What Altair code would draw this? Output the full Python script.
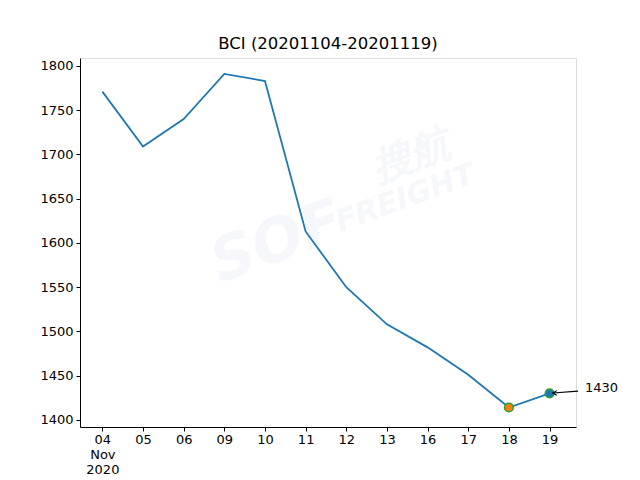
import altair as alt
import pandas as pd

dates = ["04", "05", "06", "09", "10", "11", "12", "13", "16", "17", "18", "19"]
values = [1771, 1709, 1740, 1791, 1783, 1613, 1550, 1508, 1482, 1451, 1414, 1430]

df = pd.DataFrame({"i": list(range(len(dates))), "date": dates, "bci": values})

xs = alt.Scale(domain=[-0.55, 11.65], nice=False, zero=False)
ys = alt.Scale(domain=[1392, 1809], nice=False, zero=False)

label_arr = "[" + ",".join("'%s'" % d for d in dates) + "]"
label_expr = "datum.value == 0 ? ['04','Nov','2020'] : %s[datum.value]" % label_arr

xaxis = alt.Axis(values=list(range(len(dates))), labelExpr=label_expr, title=None, grid=False,
                 domain=True, domainColor="black", tickColor="black", tickSize=4, labelColor="black",
                 labelFontSize=13, labelFont="DejaVu Sans", labelPadding=2, labelLineHeight=15,
                 labelBaseline="top")
yaxis = alt.Axis(values=[1400, 1450, 1500, 1550, 1600, 1650, 1700, 1750, 1800], format="d",
                 title=None, grid=False, domain=True, domainColor="black", tickColor="black",
                 tickSize=4, labelColor="black",
                 labelFontSize=13, labelFont="DejaVu Sans", labelPadding=3)

# watermark
wm = pd.DataFrame({"x": [7.6, 7.45, 4.3], "y": [1697, 1650, 1600],
                   "t": ["搜航", "FREIGHT", "SOF"], "s": [40, 30, 60]})
watermark = alt.Chart(wm).mark_text(angle=340, color="#dfe7ef", opacity=0.3,
                                    fontStyle="italic", fontWeight="bold",
                                    font="DejaVu Sans").encode(
    x=alt.X("x:Q", scale=xs, axis=xaxis),
    y=alt.Y("y:Q", scale=ys, axis=yaxis),
    text="t:N",
    size=alt.Size("s:Q", scale=None, legend=None),
)

line = alt.Chart(df).mark_line(color="#1f77b4", strokeWidth=1.8).encode(
    x=alt.X("i:Q", scale=xs, axis=xaxis),
    y=alt.Y("bci:Q", scale=ys, axis=yaxis),
)

mk = pd.DataFrame({"i": [10, 11], "bci": [values[10], values[11]], "c": ["#ff7f0e", "#1f77b4"]})
markers = alt.Chart(mk).mark_point(filled=True, size=75, stroke="#2ca02c", strokeWidth=1.5,
                                   opacity=1, shape="circle").encode(
    x=alt.X("i:Q", scale=xs),
    y=alt.Y("bci:Q", scale=ys),
    fill=alt.Fill("c:N", scale=None),
)

ann = pd.DataFrame({"x": [11.08], "x2": [11.7], "y": [1430.5], "y2": [1432.5]})
arrow = alt.Chart(ann).mark_rule(color="black", strokeWidth=1.1, clip=False).encode(
    x=alt.X("x:Q", scale=xs), x2="x2:Q", y=alt.Y("y:Q", scale=ys), y2="y2:Q"
)
head = alt.Chart(ann).mark_point(shape="M1,-0.6L0,0L1,0.6", filled=False, stroke="black",
                                 strokeWidth=1.1, size=60, opacity=1, clip=False).encode(
    x=alt.X("x:Q", scale=xs), y=alt.Y("y:Q", scale=ys)
)
txt = pd.DataFrame({"x": [11.87], "y": [1436], "t": ["1430"]})
label = alt.Chart(txt).mark_text(align="left", baseline="middle", fontSize=13, font="DejaVu Sans",
                                 color="black", clip=False).encode(
    x=alt.X("x:Q", scale=xs), y=alt.Y("y:Q", scale=ys), text="t:N"
)

chart = alt.layer(watermark, line, markers, arrow, head, label).properties(
    width=496, height=369,
    title=alt.Title("BCI (20201104-20201119)", fontSize=16.5, font="DejaVu Sans",
                    fontWeight="normal", color="black", offset=6),
    autosize=alt.AutoSizeParams(type="none"),
    padding={"left": 72, "top": 50, "right": 56, "bottom": 49},
).configure_view(stroke="black", strokeWidth=1).configure(background="white")

chart.save("out.html", embed_options={"renderer": "svg", "actions": False})
